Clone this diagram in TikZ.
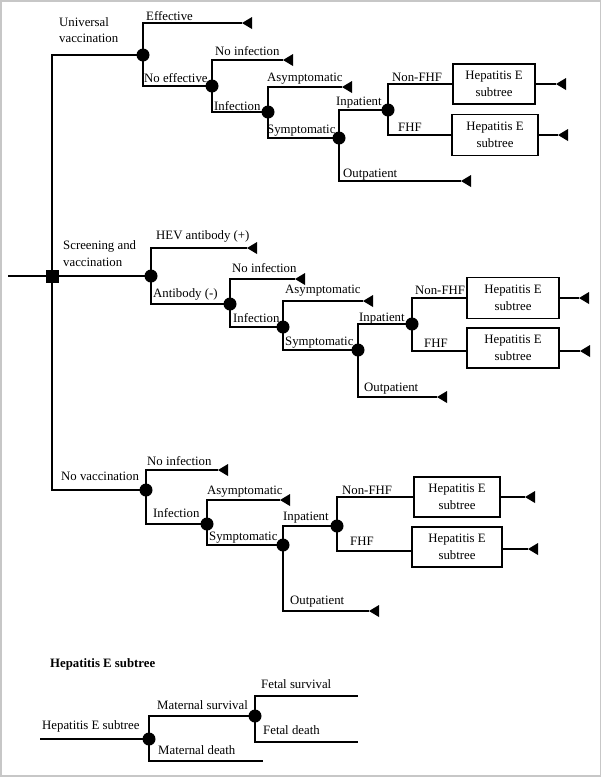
\documentclass[tikz,border=0pt]{standalone}
\usepackage{fontspec}
\setmainfont{Liberation Serif}
\tikzset{
  br/.style={line width=1.3pt},
  chance/.style={circle, fill=black, minimum size=13pt, inner sep=0pt},
  decis/.style={rectangle, fill=black, minimum size=13pt, inner sep=0pt},
  subbox/.style={draw, line width=1.3pt, inner sep=0pt, align=center, font=\fontsize{12.8}{16.5}\selectfont},
  lbl/.style={anchor=base west, inner sep=0pt, font=\fontsize{12.8}{15}\selectfont},
}
\newcommand{\tipnode}[3]{\coordinate (#1) at (#2,#3); \fill (#1) -- ++(10,-6) -- ++(0,12) -- cycle;}
\begin{document}
\begin{tikzpicture}[x=1pt,y=-1pt]
\useasboundingbox (0,0) rectangle (602,777);
\draw[black!22, line width=1.5pt] (1,1) rectangle (600.5,776);

% ---------- decision node ----------
\coordinate (root) at (8,276);
\node[decis] (d) at (52,276) {};

% ---------- universal vaccination ----------
\node[chance] (c1) at (143,55) {};
\node[chance] (c2) at (212,86) {};
\node[chance] (c3) at (268,112) {};
\node[chance] (c4) at (339,138) {};
\node[chance] (c5) at (388,110) {};
\node[subbox, minimum width=82pt, minimum height=40pt] (b1) at (494,84) {Hepatitis E\\subtree};
\node[subbox, minimum width=86pt, minimum height=41pt] (b2) at (495,135) {Hepatitis E\\subtree};
\tipnode{t1}{242}{23}
\tipnode{t2}{283}{60}
\tipnode{t3}{342}{87}
\tipnode{t4}{461}{181}
\tipnode{t5}{556}{84}
\tipnode{t6}{558}{135}

% ---------- screening and vaccination ----------
\node[chance] (c6) at (151,276) {};
\node[chance] (c7) at (230,304) {};
\node[chance] (c8) at (283,327) {};
\node[chance] (c9) at (358,350) {};
\node[chance] (c10) at (412,324) {};
\node[subbox, minimum width=92pt, minimum height=41pt] (b3) at (513,298) {Hepatitis E\\subtree};
\node[subbox, minimum width=92pt, minimum height=40pt] (b4) at (513,348) {Hepatitis E\\subtree};
\tipnode{t7}{247}{248}
\tipnode{t8}{295}{279}
\tipnode{t9}{363}{301}
\tipnode{t10}{437}{397}
\tipnode{t11}{579}{298}
\tipnode{t12}{580}{351}
\coordinate (b4in) at (467,351);

% ---------- no vaccination ----------
\node[chance] (c11) at (146,490) {};
\node[chance] (c12) at (207,524) {};
\node[chance] (c13) at (283,545) {};
\node[chance] (c14) at (337,526) {};
\node[subbox, minimum width=86pt, minimum height=40pt] (b5) at (457,497) {Hepatitis E\\subtree};
\node[subbox, minimum width=90pt, minimum height=40pt] (b6) at (457,547) {Hepatitis E\\subtree};
\tipnode{t13}{218}{470}
\tipnode{t14}{280}{500}
\tipnode{t15}{369}{611}
\tipnode{t16}{525}{497}
\tipnode{t17}{528}{549}
\coordinate (b6in) at (412,551);

% ---------- subtree legend ----------
\coordinate (sroot) at (40,739);
\node[chance] (c15) at (149,739) {};
\node[chance] (c16) at (255,716) {};
\coordinate (md) at (263,761);
\coordinate (fs) at (358,696);
\coordinate (fd) at (358,742);

% ---------- connectors ----------
\begin{scope}[br]
\draw (root) -- (d.center);
\draw (d.center) |- (c1.center);
\draw (d.center) -- (c6.center);
\draw (d.center) |- (c11.center);

\draw (c1.center) |- (t1);
\draw (c1.center) |- (c2.center);
\draw (c2.center) |- (t2);
\draw (c2.center) |- (c3.center);
\draw (c3.center) |- (t3);
\draw (c3.center) |- (c4.center);
\draw (c4.center) |- (c5.center);
\draw (c4.center) |- (t4);
\draw (c5.center) |- (b1.west);
\draw (c5.center) |- (b2.west);
\draw (b1.east) -- (t5);
\draw (b2.east) -- (t6);

\draw (c6.center) |- (t7);
\draw (c6.center) |- (c7.center);
\draw (c7.center) |- (t8);
\draw (c7.center) |- (c8.center);
\draw (c8.center) |- (t9);
\draw (c8.center) |- (c9.center);
\draw (c9.center) |- (c10.center);
\draw (c9.center) |- (t10);
\draw (c10.center) |- (b3.west);
\draw (c10.center) |- (b4in);
\draw (b3.east) -- (t11);
\draw (b4.east |- t12) -- (t12);

\draw (c11.center) |- (t13);
\draw (c11.center) |- (c12.center);
\draw (c12.center) |- (t14);
\draw (c12.center) |- (c13.center);
\draw (c13.center) |- (c14.center);
\draw (c13.center) |- (t15);
\draw (c14.center) |- (b5.west);
\draw (c14.center) |- (b6in);
\draw (b5.east) -- (t16);
\draw (b6.east |- t17) -- (t17);

\draw (sroot) -- (c15.center);
\draw (c15.center) |- (c16.center);
\draw (c15.center) |- (md);
\draw (c16.center) |- (fs);
\draw (c16.center) |- (fd);
\end{scope}

% ---------- labels ----------
\node[lbl] (l1) at (59,26) {Universal};
\node[lbl] (l2) at (59,42) {vaccination};
\node[lbl] (l3) at (146,20) {Effective};
\node[lbl] (l4) at (215,55) {No infection};
\node[lbl] (l5) at (144,82) {No effective};
\node[lbl] (l6) at (214,110) {Infection};
\node[lbl] (l7) at (267,81) {Asymptomatic};
\node[lbl] (l8) at (267,133) {Symptomatic};
\node[lbl] (l9) at (336,105) {Inpatient};
\node[lbl] (l10) at (392,81) {Non-FHF};
\node[lbl] (l11) at (398,131) {FHF};
\node[lbl] (l12) at (343,177) {Outpatient};

\node[lbl] (m1) at (63,249) {Screening and};
\node[lbl] (m2) at (63,266) {vaccination};
\node[lbl] (m3) at (156,239) {HEV antibody (+)};
\node[lbl] (m4) at (153,297) {Antibody (-)};
\node[lbl] (m5) at (232,272) {No infection};
\node[lbl] (m6) at (233,322) {Infection};
\node[lbl] (m7) at (285,293) {Asymptomatic};
\node[lbl] (m8) at (285,345) {Symptomatic};
\node[lbl] (m9) at (359,321) {Inpatient};
\node[lbl] (m10) at (415,294) {Non-FHF};
\node[lbl] (m11) at (424,347) {FHF};
\node[lbl] (m12) at (364,391) {Outpatient};

\node[lbl] (n1) at (61,480) {No vaccination};
\node[lbl] (n2) at (147,465) {No infection};
\node[lbl] (n3) at (153,517) {Infection};
\node[lbl] (n4) at (207,494) {Asymptomatic};
\node[lbl] (n5) at (209,540) {Symptomatic};
\node[lbl] (n6) at (283,520) {Inpatient};
\node[lbl] (n7) at (342,494) {Non-FHF};
\node[lbl] (n8) at (350,545) {FHF};
\node[lbl] (n9) at (290,604) {Outpatient};

\node[lbl, font=\fontsize{12.8}{15}\selectfont\bfseries] (s0) at (50,667) {Hepatitis E subtree};
\node[lbl] (s1) at (42,729) {Hepatitis E subtree};
\node[lbl] (s2) at (157,709) {Maternal survival};
\node[lbl] (s3) at (158,754) {Maternal death};
\node[lbl] (s4) at (261,688) {Fetal survival};
\node[lbl] (s5) at (263,734) {Fetal death};
\end{tikzpicture}
\end{document}
